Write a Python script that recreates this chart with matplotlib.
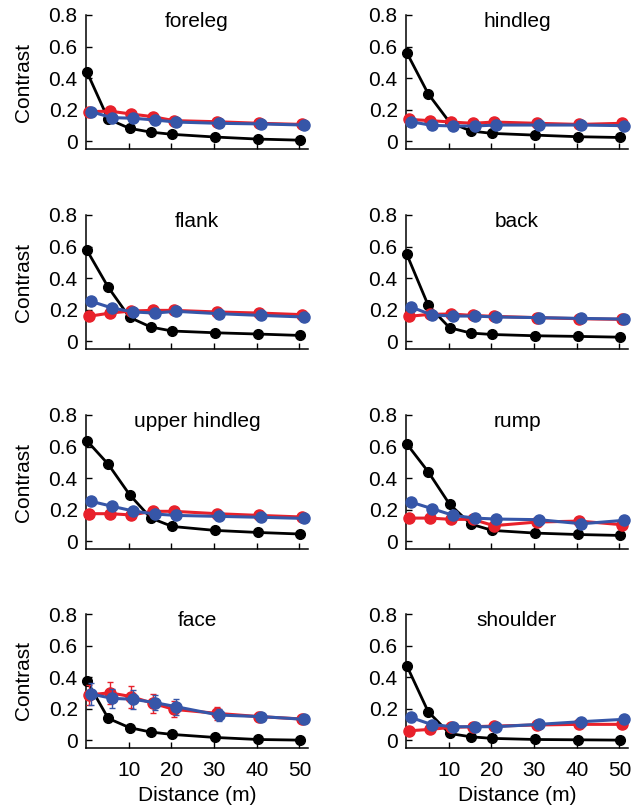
import matplotlib
matplotlib.use("Agg")
import matplotlib.pyplot as plt
import numpy as np

plt.rcParams["font.family"] = ["Liberation Sans", "DejaVu Sans"]

distance = [0, 5, 10, 15, 20, 30, 40, 50]
panels = ["foreleg", "hindleg", "flank", "back", "upper hindleg", "rump", "face", "shoulder"]

black = {
    "foreleg":       [0.44, 0.14, 0.081, 0.057, 0.043, 0.026, 0.013, 0.006],
    "hindleg":       [0.56, 0.30, 0.12, 0.064, 0.049, 0.038, 0.028, 0.023],
    "flank":         [0.577, 0.342, 0.151, 0.089, 0.064, 0.053, 0.045, 0.036],
    "back":          [0.55, 0.227, 0.085, 0.051, 0.042, 0.034, 0.030, 0.025],
    "upper hindleg": [0.637, 0.488, 0.295, 0.146, 0.093, 0.068, 0.055, 0.045],
    "rump":          [0.616, 0.44, 0.234, 0.108, 0.068, 0.051, 0.042, 0.036],
    "face":          [0.376, 0.138, 0.079, 0.051, 0.036, 0.017, 0.004, 0.0],
    "shoulder":      [0.471, 0.18, 0.042, 0.021, 0.011, 0.004, 0.002, 0.0],
}
red = {
    "foreleg":       [0.187, 0.19, 0.172, 0.155, 0.13, 0.123, 0.113, 0.106],
    "hindleg":       [0.138, 0.13, 0.121, 0.113, 0.121, 0.113, 0.106, 0.113],
    "flank":         [0.157, 0.178, 0.191, 0.195, 0.195, 0.185, 0.178, 0.168],
    "back":          [0.157, 0.17, 0.172, 0.163, 0.157, 0.149, 0.142, 0.138],
    "upper hindleg": [0.174, 0.174, 0.166, 0.189, 0.189, 0.174, 0.163, 0.153],
    "rump":          [0.146, 0.146, 0.138, 0.138, 0.098, 0.121, 0.127, 0.104],
    "face":          [0.287, 0.30, 0.276, 0.234, 0.195, 0.17, 0.149, 0.134],
    "shoulder":      [0.059, 0.068, 0.081, 0.085, 0.089, 0.096, 0.10, 0.10],
}
blue = {
    "foreleg":       [0.187, 0.149, 0.145, 0.134, 0.121, 0.113, 0.109, 0.102],
    "hindleg":       [0.123, 0.10, 0.096, 0.096, 0.102, 0.102, 0.102, 0.098],
    "flank":         [0.253, 0.21, 0.185, 0.178, 0.189, 0.174, 0.163, 0.153],
    "back":          [0.217, 0.166, 0.159, 0.159, 0.153, 0.149, 0.144, 0.14],
    "upper hindleg": [0.253, 0.221, 0.191, 0.172, 0.163, 0.157, 0.151, 0.144],
    "rump":          [0.248, 0.206, 0.163, 0.146, 0.14, 0.136, 0.11, 0.132],
    "face":          [0.293, 0.265, 0.259, 0.238, 0.212, 0.159, 0.149, 0.132],
    "shoulder":      [0.144, 0.098, 0.085, 0.085, 0.085, 0.10, 0.117, 0.132],
}
# error bars (only noticeable in a few panels)
red_err = {
    "face": [0.065, 0.07, 0.07, 0.06, 0.05, 0.04, 0.03, 0.02],
}
blue_err = {
    "face": [0.07, 0.06, 0.06, 0.05, 0.05, 0.04, 0.02, 0.02],
    "shoulder": [0.03, 0.012, 0.01, 0.01, 0.01, 0.01, 0.01, 0.01],
    "flank": [0.02, 0.012, 0.01, 0.01, 0.01, 0.01, 0.01, 0.01],
    "back": [0.02, 0.01, 0.01, 0.01, 0.01, 0.01, 0.01, 0.01],
    "upper hindleg": [0.02, 0.012, 0.01, 0.01, 0.01, 0.01, 0.01, 0.01],
}

RED = "#e8212b"
BLUE = "#3656a8"
FS = 15

fig = plt.figure(figsize=(6.34, 8.09), dpi=100)
W, H = 634, 809
lefts = [86, 406]
bottoms = [149, 349, 549, 748]
aw, ah = 222, 134
x = np.array(distance, dtype=float)

for i, name in enumerate(panels):
    r, c = divmod(i, 2)
    ax = fig.add_axes([lefts[c] / W, 1 - bottoms[r] / H, aw / W, ah / H])
    ax.plot(x + 0.2, black[name], "-o", color="black", lw=2.0, ms=7, clip_on=False, zorder=3)
    ax.errorbar(x + 0.6, red[name], yerr=red_err.get(name, [0.008] * 8), color=RED,
                lw=2.2, marker="o", ms=8, elinewidth=1.0, capsize=2, clip_on=False, zorder=4)
    ax.errorbar(x + 1.1, blue[name], yerr=blue_err.get(name, [0.008] * 8), color=BLUE,
                lw=2.2, marker="o", ms=8, elinewidth=1.0, capsize=2, clip_on=False, zorder=5)
    ax.set_xlim(0, 52)
    ax.set_ylim(-0.05, 0.8)
    ax.set_yticks([0, 0.2, 0.4, 0.6, 0.8])
    ax.set_yticklabels(["0", "0.2", "0.4", "0.6", "0.8"])
    ax.set_xticks([10, 20, 30, 40, 50])
    for s in ["top", "right"]:
        ax.spines[s].set_visible(False)
    for s in ["left", "bottom"]:
        ax.spines[s].set_linewidth(1.1)
    ax.tick_params(direction="in", length=4, width=1.0, labelsize=FS)
    ax.tick_params(axis="y", pad=6)
    ax.tick_params(axis="x", pad=9)
    ax.text(0.5, 1.02, name, transform=ax.transAxes, ha="center", va="top", fontsize=FS)
    if c == 0:
        ax.set_ylabel("Contrast", fontsize=FS, labelpad=11)
    if r < 3:
        ax.set_xticklabels([])
    else:
        ax.set_xlabel("Distance (m)", fontsize=FS, labelpad=5)

fig.savefig("out.png", dpi=100)
